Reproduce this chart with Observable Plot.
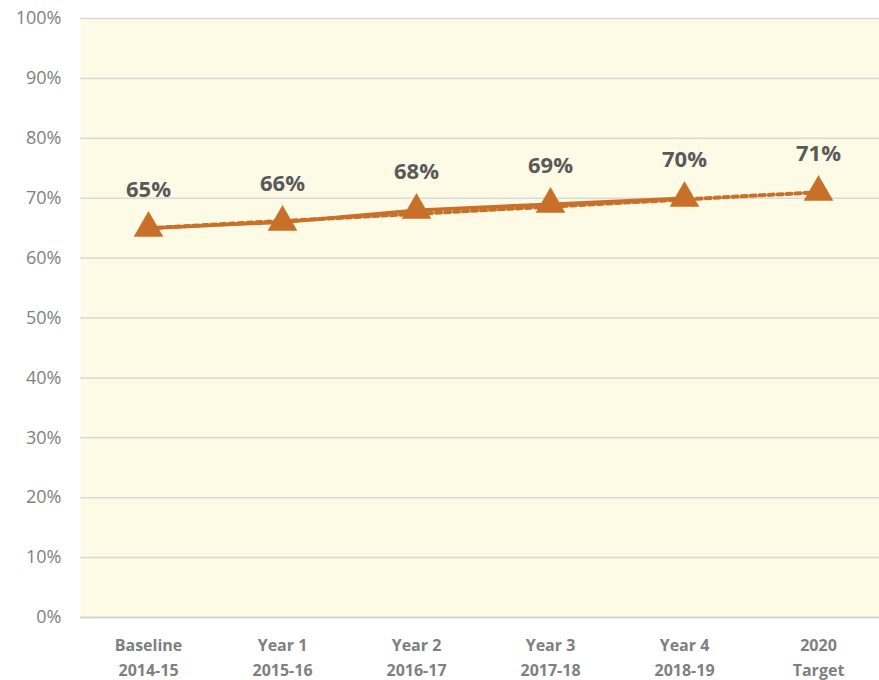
<!DOCTYPE html>
<html><head><meta charset="utf-8">
<script src="https://cdn.jsdelivr.net/npm/d3@7"></script>
<script src="https://cdn.jsdelivr.net/npm/@observablehq/plot@0.6"></script>
<style>body{margin:0;background:#fff;font-family:"Open Sans",sans-serif;}</style>
</head><body><div id="chart"></div>
<script>
const categories = ["Baseline\n2014-15","Year 1\n2015-16","Year 2\n2016-17","Year 3\n2017-18","Year 4\n2018-19","2020\nTarget"];
const values = [65, 66, 68, 69, 70, 71];
const trendCats = ["Baseline\n2014-15","2020\nTarget"];
const trendValues = [65, 71];
const yTicks = [0,10,20,30,40,50,60,70,80,90,100];

const data = categories.map((c,i)=>({cat:c, v:values[i]}));
const actual = data.slice(0,5);
const trend = trendCats.map((c,i)=>({cat:c, v:trendValues[i]}));
const orange = "#C8702A";

const chart = Plot.plot({
  width: 879, height: 680,
  marginLeft: 80, marginRight: 0, marginTop: 18, marginBottom: 63,
  style: {fontFamily: "'Open Sans', sans-serif", background: "#fff"},
  x: {type: "point", domain: categories, padding: 0.5, range: [80, 885]},
  y: {domain: [0, 100]},
  marks: [
    Plot.frame({fill: "#FDFBE6", stroke: null}),
    Plot.gridY(yTicks, {stroke: "#D9D9D9", strokeOpacity: 1, strokeWidth: 1.5}),
    Plot.ruleY([0], {stroke: "#CFCFCF", strokeWidth: 1.5}),
    Plot.axisY(yTicks, {tickSize: 0, tickPadding: 19, fontSize: 18, fill: "#808080", tickFormat: d => d + "%", label: null}),
    Plot.axisX({tickSize: 0, tickPadding: 16, fontSize: 16, fontWeight: "bold", fill: "#7F7F7F", lineHeight: 1.55, label: null}),
    Plot.line(trend, {x: "cat", y: "v", stroke: orange, strokeWidth: 4, strokeDasharray: "5,4"}),
    Plot.line(actual, {x: "cat", y: "v", stroke: orange, strokeWidth: 3.5}),
    Plot.dot(data, {x: "cat", y: "v", symbol: "triangle", r: 11, fill: orange, stroke: null}),
    Plot.text(data, {x: "cat", y: "v", text: d => d.v + "%", dy: -38, fontSize: 22, fontWeight: "bold", fill: "#595959"})
  ]
});
document.getElementById("chart").appendChild(chart);
</script></body></html>
